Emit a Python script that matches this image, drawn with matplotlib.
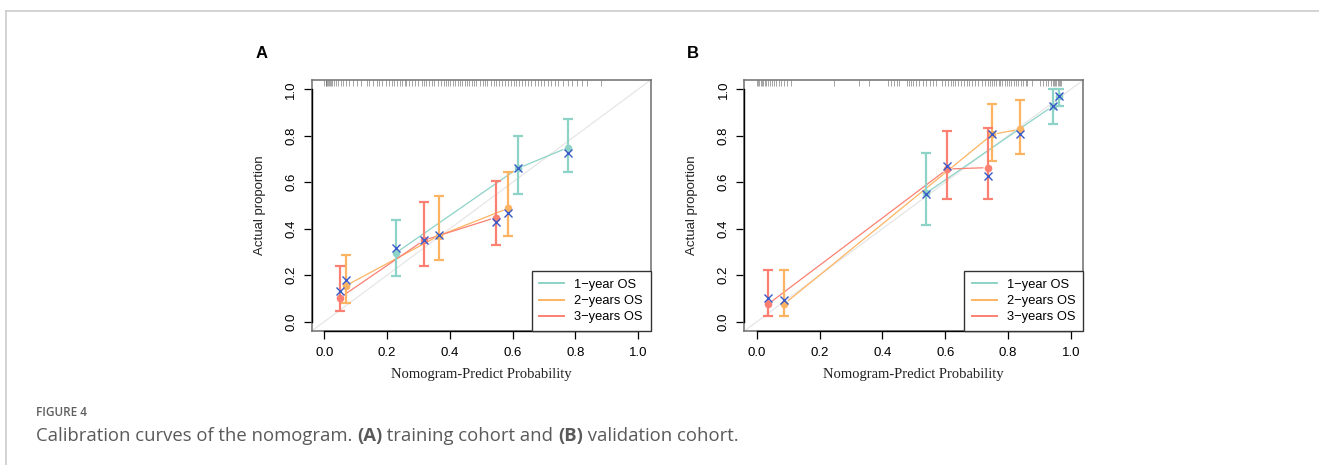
import matplotlib
matplotlib.use("Agg")
import matplotlib.pyplot as plt
from matplotlib.lines import Line2D

W, H = 1319, 465

# ---------------- data ----------------
labels = ["1\u2212year OS", "2\u2212years OS", "3\u2212years OS"]
colors = ["#8DD3C7", "#FDB462", "#FB8072"]
xcol = "#3A5BC7"

# panel A: training cohort
a_x = [[0.227, 0.617, 0.776], [0.069, 0.365, 0.586], [0.051, 0.317, 0.546]]
a_obs = [[0.295, 0.660, 0.749], [0.155, 0.370, 0.488], [0.104, 0.350, 0.448]]
a_corr = [[0.319, 0.663, 0.728], [0.180, 0.374, 0.467], [0.130, 0.352, 0.427]]
a_lo = [[0.198, 0.550, 0.642], [0.080, 0.266, 0.370], [0.044, 0.238, 0.331]]
a_hi = [[0.438, 0.799, 0.872], [0.288, 0.539, 0.646], [0.238, 0.514, 0.607]]

# panel B: validation cohort
b_x = [[0.538, 0.943, 0.964], [0.087, 0.750, 0.838], [0.036, 0.607, 0.737]]
b_obs = [[0.552, 0.928, 0.970], [0.076, 0.806, 0.828], [0.076, 0.657, 0.663]]
b_corr = [[0.550, 0.926, 0.971], [0.095, 0.807, 0.808], [0.102, 0.670, 0.625]]
b_lo = [[0.417, 0.851, 0.930], [0.026, 0.693, 0.722], [0.026, 0.529, 0.529]]
b_hi = [[0.728, 1.000, 1.000], [0.223, 0.937, 0.954], [0.223, 0.822, 0.832]]

rug_a = [0.000, 0.004, 0.007, 0.010, 0.013, 0.016, 0.019, 0.022, 0.026, 0.030,
         0.038, 0.045, 0.052, 0.060, 0.070, 0.080, 0.092, 0.105, 0.118, 0.135,
         0.142, 0.155, 0.168, 0.175, 0.185, 0.197, 0.205, 0.215, 0.222, 0.232,
         0.240, 0.248, 0.256, 0.262, 0.270, 0.280, 0.288, 0.300, 0.310, 0.318,
         0.325, 0.335, 0.342, 0.350, 0.362, 0.372, 0.380, 0.388, 0.395, 0.402,
         0.410, 0.418, 0.425, 0.432, 0.440, 0.448, 0.455, 0.462, 0.470, 0.478,
         0.485, 0.495, 0.505, 0.512, 0.520, 0.530, 0.540, 0.548, 0.556, 0.565,
         0.575, 0.585, 0.595, 0.605, 0.612, 0.620, 0.630, 0.640, 0.648, 0.660,
         0.670, 0.680, 0.690, 0.700, 0.712, 0.722, 0.735, 0.745, 0.760, 0.775,
         0.790, 0.805, 0.820, 0.838, 0.881]
rug_b = [0.000, 0.004, 0.008, 0.012, 0.016, 0.020, 0.025, 0.030, 0.036, 0.042,
         0.048, 0.055, 0.062, 0.070, 0.078, 0.086, 0.096, 0.110, 0.245, 0.324,
         0.356, 0.418, 0.428, 0.438, 0.446, 0.452, 0.478, 0.484, 0.490, 0.498,
         0.508, 0.518, 0.530, 0.540, 0.552, 0.562, 0.572, 0.590, 0.600, 0.608,
         0.618, 0.625, 0.632, 0.640, 0.650, 0.660, 0.668, 0.676, 0.686, 0.695,
         0.705, 0.716, 0.728, 0.735, 0.742, 0.750, 0.757, 0.763, 0.770, 0.776,
         0.782, 0.790, 0.796, 0.803, 0.810, 0.818, 0.825, 0.832, 0.840, 0.848,
         0.856, 0.862, 0.876, 0.903, 0.912, 0.920, 0.928, 0.936, 0.942, 0.946,
         0.950, 0.954, 0.958, 0.962, 0.966, 0.970]

ticks = [0.0, 0.2, 0.4, 0.6, 0.8, 1.0]
tick_labels = ["0.0", "0.2", "0.4", "0.6", "0.8", "1.0"]

plt.rcParams["font.family"] = ["Liberation Sans", "DejaVu Sans"]

fig = plt.figure(figsize=(W / 100, H / 100), dpi=100)
renderer = fig.canvas.get_renderer()


def gap_line(ax, xs, ys, color, gap=5.5):
    # R type="b": segments stop short of the points
    tr = ax.transData
    inv = tr.inverted()
    for i in range(len(xs) - 1):
        p0 = tr.transform((xs[i], ys[i]))
        p1 = tr.transform((xs[i + 1], ys[i + 1]))
        d = p1 - p0
        n = (d[0] ** 2 + d[1] ** 2) ** 0.5
        if n <= 2 * gap:
            continue
        u = d / n
        q0 = inv.transform(p0 + u * gap)
        q1 = inv.transform(p1 - u * gap)
        ax.plot([q0[0], q1[0]], [q0[1], q1[1]], color=color, lw=0.9, zorder=2)


def panel(left_px, letter, letter_xy, xs, obs, corr, lo, hi, rug):
    ax = fig.add_axes([left_px / W, (H - 331) / H, 339 / W, 251 / H])
    ax.set_xlim(-0.04, 1.04)
    ax.set_ylim(-0.04, 1.04)
    for s in ax.spines.values():
        s.set_color("#6e6e6e")
        s.set_linewidth(1.1)
    ax.set_xticks(ticks)
    ax.set_xticklabels(tick_labels)
    ax.set_yticks(ticks)
    ax.set_yticklabels(tick_labels, rotation=90, va="center")
    ax.tick_params(direction="out", length=5.5, width=0.9, labelsize=9.5,
                   colors="black")
    ax.tick_params(axis="x", pad=6)
    ax.tick_params(axis="y", pad=5)
    # black axis lines from first to last tick (R style)
    ax.plot([0, 1], [-0.04, -0.04], color="black", lw=1, clip_on=False, zorder=5)
    ax.plot([-0.04, -0.04], [0, 1], color="black", lw=1, clip_on=False, zorder=5)

    ax.plot([-0.04, 1.04], [-0.04, 1.04], color="#e6e6e6", lw=0.9, zorder=1)
    ax.vlines(rug, 0.978, 1.0, transform=ax.get_xaxis_transform(),
              color="#555555", lw=0.5, alpha=0.75)

    handles = []
    for k in range(3):
        c = colors[k]
        gap_line(ax, xs[k], obs[k], c)
        ax.vlines(xs[k], lo[k], hi[k], color=c, lw=1.6, zorder=3)
        ax.plot(xs[k], lo[k], ls="none", marker="_", ms=7, mew=1.6, color=c, zorder=3)
        ax.plot(xs[k], hi[k], ls="none", marker="_", ms=7, mew=1.6, color=c, zorder=3)
        ax.plot(xs[k], obs[k], ls="none", marker="o", ms=4.5, color=c, zorder=4)
        ax.plot(xs[k], corr[k], ls="none", marker="x", ms=5.5, mew=1.0,
                color=xcol, zorder=5)
        handles.append(Line2D([], [], color=c, lw=1.4))

    leg = ax.legend(handles, labels, loc="lower right", borderaxespad=0,
                    fancybox=False, edgecolor="#333333", fontsize=9.3,
                    handlelength=1.9, handletextpad=0.8, labelspacing=0.32,
                    borderpad=0.6, framealpha=1)
    leg.get_frame().set_linewidth(1.0)

    cx = (left_px + 339 / 2) / W
    fig.text(cx, 1 - 374 / H, "Nomogram-Predict Probability", ha="center",
             va="center", family="Liberation Serif", fontsize=10.5, color="#222222")
    fig.text((left_px - 52) / W, 1 - 205 / H, "Actual proportion", rotation=90,
             ha="center", va="center", fontsize=9.5, color="#222222")
    fig.text(letter_xy[0] / W, 1 - letter_xy[1] / H, letter, ha="center",
             va="center", fontsize=12, fontweight="bold")
    return ax


panel(311.7, "A", (262, 54), a_x, a_obs, a_corr, a_lo, a_hi, rug_a)
panel(744.3, "B", (693, 53), b_x, b_obs, b_corr, b_lo, b_hi, rug_b)

# light frame around the figure block
fig.add_artist(Line2D([6 / W, 1], [1 - 11 / H, 1 - 11 / H], color="#cccccc", lw=1.2))
fig.add_artist(Line2D([6 / W, 6 / W], [0, 1 - 11 / H], color="#cccccc", lw=1.2))

# caption
cap_font = ["Open Sans", "DejaVu Sans"]
fig.text(36 / W, 1 - 412 / H, "FIGURE 4", ha="left", va="center",
         family=cap_font, fontsize=8.5, fontweight="semibold", color="#5f5f5f")

# size the caption so its first words span the width seen in the picture
probe = fig.text(0, 0, "Calibration curves of the nomogra", family=cap_font,
                 fontsize=10)
cap_size = 10 * 294 / probe.get_window_extent(renderer).width
probe.remove()

pieces = [("Calibration curves of the nomogram. ", "normal"), ("(A)", "bold"),
          (" training cohort and ", "normal"), ("(B)", "bold"),
          (" validation cohort.", "normal")]
xpos = 36
for txt, wt in pieces:
    t = fig.text(xpos / W, 1 - 436 / H, txt, ha="left", va="center",
                 family=cap_font, fontsize=cap_size, fontweight=wt, color="#5a5a5a")
    xpos += t.get_window_extent(renderer).width

fig.savefig("out.png", dpi=100)
